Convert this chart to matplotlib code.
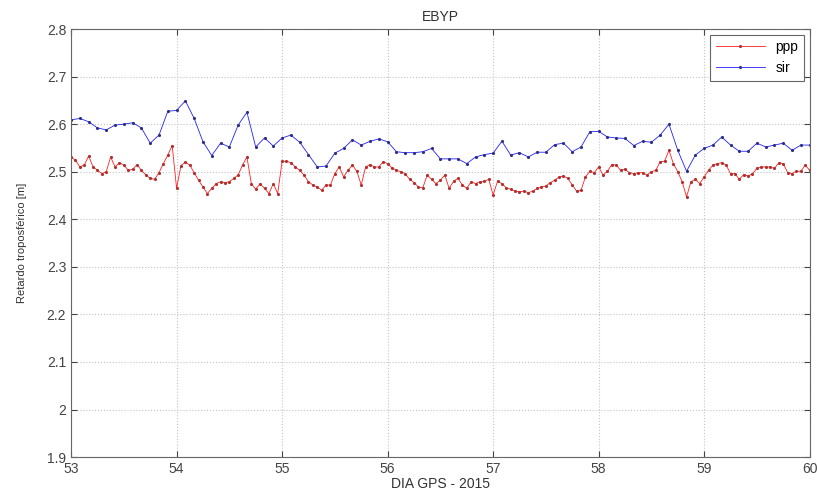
import numpy as np
import matplotlib
matplotlib.use("Agg")
from matplotlib import pyplot as plt
from matplotlib.ticker import FuncFormatter

# EBYP tropospheric delay, GPS days 53-60 (2015)
DAY_START = 53
DAY_END = 60

# ppp solution, hourly
ppp = [2.531, 2.524, 2.510, 2.514, 2.533, 2.510, 2.503, 2.496, 2.500, 2.531,
       2.510, 2.519, 2.514, 2.503, 2.505, 2.515, 2.503, 2.493, 2.486, 2.484,
       2.498, 2.517, 2.535, 2.555,
       2.465, 2.513, 2.520,
       2.514, 2.498, 2.482, 2.468, 2.454, 2.465, 2.475, 2.479, 2.477, 2.479,
       2.486, 2.493, 2.514, 2.531, 2.475, 2.463, 2.475, 2.465, 2.454, 2.475,
       2.454, 2.522, 2.522, 2.519, 2.510, 2.503, 2.493, 2.479, 2.472,
       2.468, 2.461, 2.472, 2.472, 2.496, 2.510, 2.489, 2.503, 2.514, 2.501,
       2.472, 2.510, 2.515, 2.510, 2.510, 2.521, 2.517, 2.508, 2.503, 2.500,
       2.496, 2.484, 2.477, 2.468, 2.466, 2.493, 2.484, 2.475,
       2.482, 2.493, 2.465, 2.480, 2.486, 2.472, 2.465, 2.479, 2.475, 2.479,
       2.480, 2.484, 2.451, 2.480, 2.475, 2.466, 2.463, 2.459, 2.458, 2.459,
       2.456, 2.459, 2.465, 2.468, 2.470, 2.477, 2.482, 2.489,
       2.491, 2.486, 2.472, 2.459, 2.461, 2.489, 2.501, 2.498, 2.510, 2.493,
       2.501, 2.515, 2.514, 2.503, 2.505, 2.498, 2.496, 2.498, 2.498, 2.493,
       2.500, 2.503, 2.521, 2.522, 2.545, 2.517, 2.500, 2.479,
       2.447, 2.479, 2.484, 2.475, 2.489, 2.503, 2.514, 2.517, 2.519, 2.514,
       2.496, 2.496, 2.484, 2.494, 2.491, 2.496, 2.507, 2.510, 2.510, 2.510,
       2.507, 2.519, 2.517, 2.498, 2.496, 2.501, 2.501, 2.514, 2.503]

# sir solution, every 2 hours
sir = [2.609, 2.612, 2.605, 2.592, 2.588, 2.598, 2.600, 2.603, 2.592, 2.560,
       2.577, 2.627, 2.629, 2.649, 2.612, 2.563, 2.534, 2.560, 2.552, 2.598,
       2.625, 2.552, 2.571, 2.554, 2.571, 2.577, 2.562, 2.536, 2.510, 2.512,
       2.539, 2.549, 2.567, 2.556, 2.564, 2.569, 2.563, 2.542, 2.540, 2.540,
       2.542, 2.549, 2.527, 2.527, 2.527, 2.517, 2.531, 2.536, 2.539, 2.564,
       2.535, 2.540, 2.531, 2.541, 2.541, 2.557, 2.560, 2.542, 2.552, 2.584,
       2.585, 2.573, 2.571, 2.570, 2.555, 2.564, 2.562, 2.577, 2.600, 2.545,
       2.501, 2.535, 2.549, 2.556, 2.573, 2.556, 2.543, 2.543, 2.560, 2.552,
       2.556, 2.560, 2.545, 2.556, 2.556]

t_ppp = np.linspace(DAY_START, DAY_END, len(ppp))
t_sir = np.linspace(DAY_START, DAY_END, len(sir))

plt.rcParams['font.family'] = ['Liberation Sans', 'DejaVu Sans']

fig = plt.figure(figsize=(8.17, 4.92), dpi=100)
ax = fig.add_axes([0.087, 0.071, 0.904, 0.870])

ax.plot(t_ppp, ppp, '.-', color='#ff2020', lw=0.6, ms=2.5,
        mec='#b03030', label='ppp')
ax.plot(t_sir, sir, '.-', color='#2020ff', lw=0.6, ms=2.5,
        mec='#303080', label='sir')

ax.set_xlim(DAY_START, DAY_END)
ax.set_ylim(1.9, 2.8)
ax.set_xticks(np.arange(DAY_START, DAY_END + 1))
ax.set_yticks(np.arange(1.9, 2.81, 0.1))
ax.yaxis.set_major_formatter(FuncFormatter(lambda v, p: '%g' % round(v, 2)))
ax.tick_params(direction='in', length=4, labelsize=10, colors='#444444',
               top=True, right=True)
ax.grid(True, linestyle=':', color='#c4c4c4', lw=0.8)
for s in ax.spines.values():
  s.set_color('#666666')
  s.set_linewidth(0.8)

ax.set_title('EBYP', fontsize=10, color='#333333', pad=6)
ax.set_xlabel('DIA GPS - 2015', fontsize=10, color='#333333', labelpad=1)
ax.set_ylabel('Retardo troposférico [m]', fontsize=8, color='#333333', labelpad=14)

leg = ax.legend(loc='upper right', fontsize=10, fancybox=False, framealpha=1,
                borderaxespad=0.4, handlelength=3.5)
leg.get_frame().set_edgecolor('#666666')
leg.get_frame().set_linewidth(0.8)

fig.savefig('out.png', dpi=100)
